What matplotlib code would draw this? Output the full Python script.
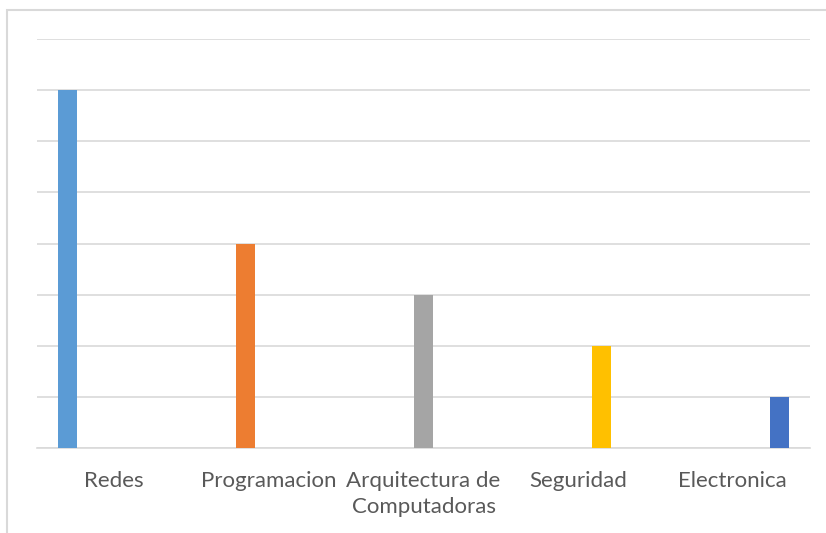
import numpy as np
import matplotlib
matplotlib.use("Agg")
from matplotlib import pyplot as plt
from matplotlib.patches import Rectangle

categories = ["Redes", "Programacion", "Arquitectura de\nComputadoras", "Seguridad", "Electronica"]
values = [7, 4, 3, 2, 1]
colors = ["#5B9BD5", "#ED7D31", "#A5A5A5", "#FFC000", "#4472C4"]

plt.rcParams['font.family'] = ['Lato', 'DejaVu Sans']

fig = plt.figure(figsize=(8.26, 5.33), dpi=100)
ax = fig.add_axes([37/826, 85/533, 773/826, 409/533])

# clustered layout: each category holds one non-zero series
x = np.arange(len(categories))
step = 0.152
width = 0.123
for i, (v, c) in enumerate(zip(values, colors)):
    ax.bar(x[i] + (i - 2) * step, v, width=width, color=c, zorder=3)

ax.set_xlim(-0.5, 4.5)
ax.set_ylim(0, 8)
ax.set_yticks(range(0, 9))
ax.yaxis.grid(True, color="#D9D9D9", linewidth=1.2)
ax.tick_params(axis="y", left=False, labelleft=False)
ax.tick_params(axis="x", bottom=False, pad=13)
ax.set_xticks(x)
ax.set_xticklabels(categories, fontsize=16, color="#595959", linespacing=1.35)
for s in ["top", "right", "left"]:
    ax.spines[s].set_visible(False)
ax.spines["bottom"].set_color("#D9D9D9")
ax.spines["bottom"].set_linewidth(1.2)

# chart border, cropped on right and bottom
fig.patches.append(Rectangle((7.5/826, -0.1), 1.2, (533-10)/533 + 0.1,
                             transform=fig.transFigure, fill=False,
                             edgecolor="#D9D9D9", linewidth=1.5))

fig.savefig("out.png", dpi=100)
